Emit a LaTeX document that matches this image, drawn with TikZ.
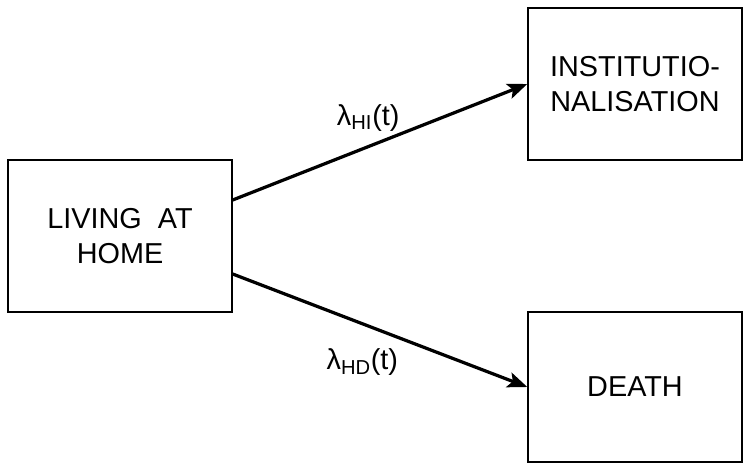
\documentclass[tikz,border=0pt]{standalone}
\usepackage{fontspec}
\setmainfont{Liberation Sans}
\usetikzlibrary{arrows.meta}
\begin{document}
\begin{tikzpicture}[
        statebox/.style={draw, line width=1pt, align=center,
            font=\fontsize{20.5}{25}\selectfont, inner sep=0pt},
        trans/.style={line width=2.3pt, -{Stealth[length=14pt,width=11pt,inset=3pt]}},
        rate/.style={font=\fontsize{20.5}{25}\selectfont, inner sep=0pt}
    ]
        \useasboundingbox (0,0) rectangle (18.6,11.625);
        \node[statebox, minimum width=5.6cm, minimum height=3.8cm] (home) at (3,5.725) {LIVING\ \ AT\\HOME};
        \node[statebox, minimum width=5.35cm, minimum height=3.8cm] (inst) at (15.875,9.525) {INSTITUTIO-\\NALISATION};
        \node[statebox, minimum width=5.35cm, minimum height=3.75cm] (death) at (15.875,1.95) {DEATH};
        \draw[trans] ([yshift=0.9cm]home.east) -- (inst.west)
            node[rate, pos=0.46, yshift=0.72cm] (rhi) {λ\textsubscript{HI}(t)};
        \draw[trans] ([yshift=-0.95cm]home.east) -- (death.west)
            node[rate, pos=0.44, yshift=-0.97cm] (rhd) {λ\textsubscript{HD}(t)};
\end{tikzpicture}
\end{document}
